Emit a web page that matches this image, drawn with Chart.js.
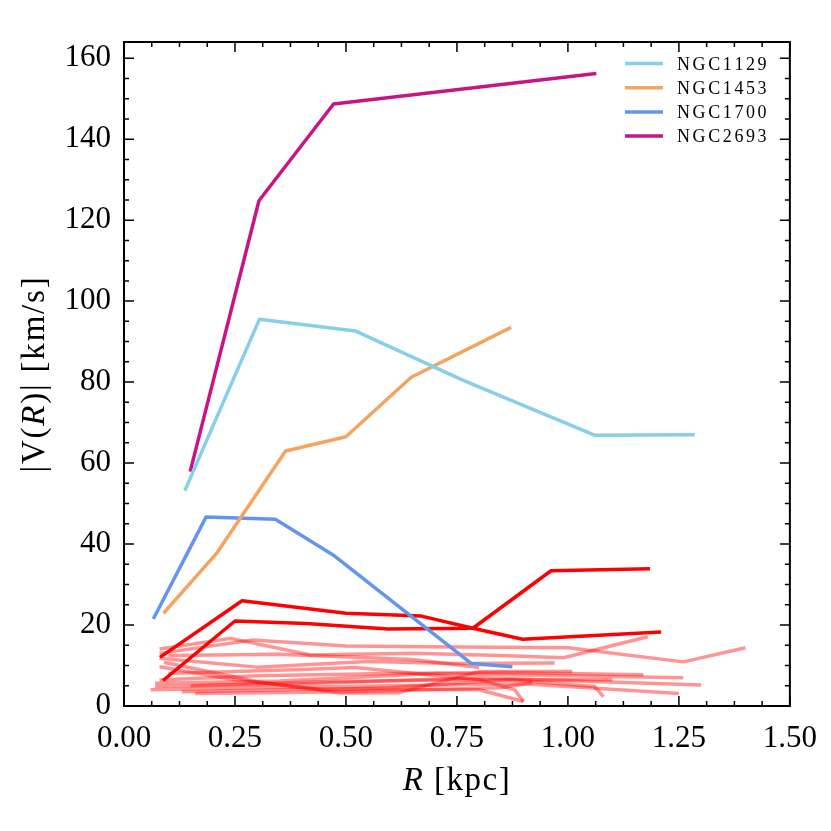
<!DOCTYPE html>
<html>
<head>
<meta charset="utf-8">
<script src="https://cdn.jsdelivr.net/npm/chart.js@4.4.1/dist/chart.umd.min.js"></script>
<style>
  html, body { margin: 0; padding: 0; background: #fff; }
  #wrap { width: 831px; height: 831px; position: relative; }
</style>
</head>
<body>
<div id="wrap"><canvas id="chart-rc"></canvas></div>
<script>
// rotation curves, R in kpc, |V| in km/s
var ngc1129R = [0.137, 0.305, 0.522, 0.763, 1.06, 1.286];
var ngc1129V = [53.2, 95.5, 92.6, 80.5, 66.9, 67.0];
var ngc1453R = [0.089, 0.21, 0.364, 0.50, 0.647, 0.872];
var ngc1453V = [22.9, 37.9, 63.0, 66.5, 81.2, 93.5];
var ngc1700R = [0.066, 0.185, 0.341, 0.471, 0.782, 0.875];
var ngc1700V = [21.5, 46.7, 46.1, 37.3, 10.5, 9.7];
var ngc2693R = [0.149, 0.304, 0.472, 1.064];
var ngc2693V = [57.9, 124.8, 148.7, 156.2];
var seriesNames = ["NGC1129", "NGC1453", "NGC1700", "NGC2693"];

// two unlabelled bright red curves
var redAR = [0.081, 0.266, 0.50, 0.67, 0.786, 0.898, 1.21];
var redAV = [12.0, 26.0, 22.9, 22.2, 19.2, 16.5, 18.3];
var redBR = [0.088, 0.25, 0.41, 0.595, 0.786, 0.962, 1.185];
var redBV = [6.3, 21.0, 20.4, 19.0, 19.2, 33.4, 33.9];

// faint red curves, [R, V] pairs
var faint01 = [[0.08, 14.1], [0.24, 16.7], [0.42, 12.6], [0.65, 13.0], [0.85, 12.5], [0.99, 11.9], [1.18, 17.1]];
var faint02 = [[0.08, 13.0], [0.29, 16.3], [0.50, 14.8], [0.75, 14.6], [1.00, 14.4], [1.26, 10.9], [1.40, 14.4]];
var faint03 = [[0.08, 11.8], [0.30, 9.6], [0.55, 11.0], [0.75, 10.5], [0.97, 10.6]];
var faint04 = [[0.09, 10.8], [0.30, 6.0], [0.49, 3.2], [0.62, 3.3], [0.80, 8.5], [1.01, 8.5]];
var faint05 = [[0.08, 9.7], [0.25, 6.5], [0.45, 4.0], [0.60, 4.5], [0.87, 6.5], [1.06, 4.8], [1.08, 2.3]];
var faint06 = [[0.08, 6.4], [0.30, 7.5], [0.60, 8.0], [0.86, 8.3], [1.17, 7.7]];
var faint07 = [[0.07, 5.6], [0.35, 6.2], [0.70, 8.0], [1.26, 7.0]];
var faint08 = [[0.07, 4.8], [0.40, 5.5], [0.80, 7.0], [1.30, 5.2]];
var faint09 = [[0.06, 4.0], [0.30, 4.5], [0.60, 5.0], [0.90, 5.5], [1.25, 3.1]];
var faint10 = [[0.13, 3.5], [0.45, 4.2], [0.80, 4.0], [0.90, 1.1]];
var faint11 = [[0.16, 3.1], [0.50, 3.5], [0.85, 4.5], [0.92, 5.8]];
var faint12 = [[0.10, 8.0], [0.40, 9.0], [0.52, 9.5], [0.80, 6.5], [0.88, 4.0], [0.90, 1.1]];
var faint13 = [[0.10, 12.5], [0.35, 12.8], [0.65, 11.5], [0.80, 9.5]];
var faint14 = [[0.15, 5.0], [0.45, 6.0], [0.75, 6.5], [1.10, 6.5]];
var faintLines = [faint01, faint02, faint03, faint04, faint05, faint06, faint07,
                  faint08, faint09, faint10, faint11, faint12, faint13, faint14];

var xTicks = [0, 0.25, 0.5, 0.75, 1.0, 1.25, 1.5];
var yTicks = [0, 20, 40, 60, 80, 100, 120, 140, 160];

var SERIF = "'Liberation Serif', 'Times New Roman', serif";

function xy(rs, vs) {
    return rs.map(function (r, i) { return { x: r, y: vs[i] }; });
}

var lineBase = {
    borderWidth: 3.5,
    pointRadius: 0,
    tension: 0,
    fill: false,
    borderJoinStyle: 'round',
    borderCapStyle: 'butt'
};

var datasets = [
    Object.assign({ label: seriesNames[0], borderColor: '#87ceeb', data: xy(ngc1129R, ngc1129V) }, lineBase),
    Object.assign({ label: seriesNames[1], borderColor: '#f4a460', data: xy(ngc1453R, ngc1453V) }, lineBase),
    Object.assign({ label: seriesNames[2], borderColor: '#6495ed', data: xy(ngc1700R, ngc1700V) }, lineBase),
    Object.assign({ label: seriesNames[3], borderColor: '#c71585', data: xy(ngc2693R, ngc2693V) }, lineBase),
    Object.assign({ label: '', borderColor: '#ff0000', data: xy(redAR, redAV) }, lineBase),
    Object.assign({ label: '', borderColor: '#ff0000', data: xy(redBR, redBV) }, lineBase)
];
faintLines.forEach(function (pts) {
    datasets.push(Object.assign({
        label: '',
        borderColor: 'rgba(255, 0, 0, 0.42)',
        data: pts.map(function (p) { return { x: p[0], y: p[1] }; })
    }, lineBase));
});

// frame + inward ticks on all four sides
var frameTicks = {
    id: 'frameTicks',
    afterDatasetsDraw: function (chart) {
        var ctx = chart.ctx, a = chart.chartArea;
        var xs = chart.scales.x, ys = chart.scales.y;
        ctx.save();
        ctx.strokeStyle = '#000';
        ctx.lineWidth = 1.5;
        var i, v, px, len;
        for (i = 0; i <= 24; i++) {
            v = i * 0.0625;
            px = xs.getPixelForValue(v);
            len = (i % 4 === 0) ? 10 : 5;
            ctx.beginPath();
            ctx.moveTo(px, a.bottom); ctx.lineTo(px, a.bottom - len);
            ctx.moveTo(px, a.top); ctx.lineTo(px, a.top + len);
            ctx.stroke();
        }
        for (v = 0; v <= 164; v += 5) {
            px = ys.getPixelForValue(v);
            len = (v % 20 === 0) ? 10 : 5;
            ctx.beginPath();
            ctx.moveTo(a.left, px); ctx.lineTo(a.left + len, px);
            ctx.moveTo(a.right, px); ctx.lineTo(a.right - len, px);
            ctx.stroke();
        }
        ctx.lineWidth = 2;
        ctx.strokeRect(a.left, a.top, a.right - a.left, a.bottom - a.top);
        ctx.restore();
    }
};

// text made of roman / italic pieces, drawn char by char with a little spacing
function drawMixed(ctx, parts, size, gap) {
    var total = 0;
    parts.forEach(function (p) {
        ctx.font = (p[1] ? 'italic ' : '') + size + 'px ' + SERIF;
        p.w = 0;
        for (var k = 0; k < p[0].length; k++) p.w += ctx.measureText(p[0][k]).width + gap;
        total += p.w;
    });
    var x = -total / 2;
    parts.forEach(function (p) {
        ctx.font = (p[1] ? 'italic ' : '') + size + 'px ' + SERIF;
        for (var k = 0; k < p[0].length; k++) {
            ctx.fillText(p[0][k], x, 0);
            x += ctx.measureText(p[0][k]).width + gap;
        }
    });
}

// axis titles with italic symbols
var axisTitles = {
    id: 'axisTitles',
    afterDraw: function (chart) {
        var ctx = chart.ctx, a = chart.chartArea;
        ctx.save();
        ctx.fillStyle = '#000';
        ctx.textAlign = 'left';
        ctx.textBaseline = 'alphabetic';
        ctx.translate((a.left + a.right) / 2, 790);
        drawMixed(ctx, [['R', true], [' [kpc]', false]], 33, 1.5);
        ctx.restore();

        ctx.save();
        ctx.fillStyle = '#000';
        ctx.textAlign = 'left';
        ctx.textBaseline = 'alphabetic';
        ctx.translate(44, (a.top + a.bottom) / 2);
        ctx.rotate(-Math.PI / 2);
        drawMixed(ctx, [['|V(', false], ['R', true], [')| [km/s]', false]], 33, 1.8);
        ctx.restore();
    }
};

// legend in the upper right corner of the axes
var cornerLegend = {
    id: 'cornerLegend',
    afterDraw: function (chart) {
        var ctx = chart.ctx;
        ctx.save();
        ctx.font = '18px ' + SERIF;
        ctx.textBaseline = 'alphabetic';
        ctx.fillStyle = '#000';
        seriesNames.forEach(function (name, i) {
            var cy = 63.5 + i * 24.2;
            ctx.strokeStyle = chart.data.datasets[i].borderColor;
            ctx.lineWidth = 3.5;
            ctx.beginPath();
            ctx.moveTo(625, cy); ctx.lineTo(663, cy);
            ctx.stroke();
            var x = 677;
            for (var k = 0; k < name.length; k++) {
                ctx.fillText(name[k], x, cy + 6);
                x += ctx.measureText(name[k]).width + 2.6;
            }
        });
        ctx.restore();
    }
};

var ctx1 = document.getElementById("chart-rc").getContext("2d");
new Chart(ctx1, {
    type: "line",
    data: { datasets: datasets },
    options: {
        responsive: true,
        maintainAspectRatio: false,
        animation: false,
        layout: { padding: { top: 42, right: 41, left: 0, bottom: 0 } },
        plugins: {
            legend: { display: false },
            tooltip: { enabled: false }
        },
        scales: {
            x: {
                type: 'linear',
                min: 0,
                max: 1.5,
                afterFit: function (scale) { scale.height = 125; },
                afterBuildTicks: function (scale) {
                    scale.ticks = xTicks.map(function (v) { return { value: v }; });
                },
                grid: { display: false, drawTicks: false },
                border: { display: false },
                ticks: {
                    padding: 14,
                    color: '#000',
                    maxRotation: 0,
                    font: { size: 31, family: SERIF },
                    callback: function (v) { return Number(v).toFixed(2); }
                }
            },
            y: {
                type: 'linear',
                min: 0,
                max: 164,
                afterFit: function (scale) { scale.width = 124; },
                afterBuildTicks: function (scale) {
                    scale.ticks = yTicks.map(function (v) { return { value: v }; });
                },
                grid: { display: false, drawTicks: false },
                border: { display: false },
                ticks: {
                    padding: 13,
                    color: '#000',
                    font: { size: 31, family: SERIF },
                    callback: function (v) { return String(v); }
                }
            }
        }
    },
    plugins: [frameTicks, axisTitles, cornerLegend]
});
</script>
</body>
</html>
